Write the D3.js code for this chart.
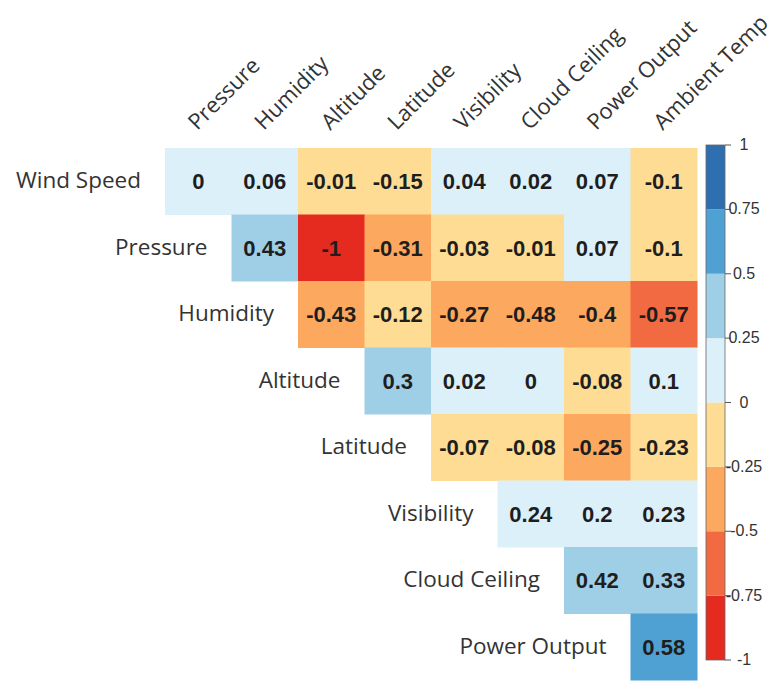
<!DOCTYPE html>
<html>
<head>
<meta charset="utf-8">
<script src="https://cdn.jsdelivr.net/npm/d3@7"></script>
<style>
  body { margin: 0; background: #fff; }
  svg { display: block; }
</style>
</head>
<body>
<div id="chart"></div>
<script>
// row / column names of the (upper triangle) correlation matrix
var rowNames = ["Wind Speed", "Pressure", "Humidity", "Altitude", "Latitude", "Visibility", "Cloud Ceiling", "Power Output"];
var colNames = ["Pressure", "Humidity", "Altitude", "Latitude", "Visibility", "Cloud Ceiling", "Power Output", "Ambient Temp"];

// values per row, starting at the row's first column
var windSpeed    = [0, 0.06, -0.01, -0.15, 0.04, 0.02, 0.07, -0.1];
var pressure     = [0.43, -1, -0.31, -0.03, -0.01, 0.07, -0.1];
var humidity     = [-0.43, -0.12, -0.27, -0.48, -0.4, -0.57];
var altitude     = [0.3, 0.02, 0, -0.08, 0.1];
var latitude     = [-0.07, -0.08, -0.252, -0.23];
var visibility   = [0.24, 0.2, 0.23];
var cloudCeiling = [0.42, 0.33];
var powerOutput  = [0.58];
var rowValues = [windSpeed, pressure, humidity, altitude, latitude, visibility, cloudCeiling, powerOutput];

// colour bar
var legendTicks = [1, 0.75, 0.5, 0.25, 0, -0.25, -0.5, -0.75, -1];
var binEdges = [-0.75, -0.5, -0.25, 0, 0.25, 0.5, 0.75];
var binColors = ["#e52b20", "#f26a41", "#fca85e", "#fedc94", "#dcf0f9", "#9fcfe7", "#4fa1d4", "#2e6fb0"];

var width = 779, height = 688;

var svg = d3.select("#chart").append("svg")
    .attr("width", width)
    .attr("height", height);

var x = d3.scaleBand().domain(colNames).range([165, 697]);
var y = d3.scaleBand().domain(rowNames).range([148, 680]);
var color = d3.scaleThreshold().domain(binEdges).range(binColors);

// flatten into cells
var cells = [];
rowValues.forEach(function(vals, i) {
  vals.forEach(function(v, j) {
    cells.push({row: rowNames[i], col: colNames[i + j], value: v});
  });
});

var fmt = function(v) { return String(+v.toFixed(2)); };

svg.selectAll(".cell")
    .data(cells)
  .enter().append("rect")
    .attr("class", "cell")
    .attr("x", function(d) { return x(d.col); })
    .attr("y", function(d) { return y(d.row); })
    .attr("width", x.bandwidth() + 0.5)
    .attr("height", y.bandwidth() + 0.5)
    .attr("fill", function(d) { return color(d.value); });

svg.selectAll(".val")
    .data(cells)
  .enter().append("text")
    .attr("class", "val")
    .attr("x", function(d) { return x(d.col) + x.bandwidth() / 2; })
    .attr("y", function(d) { return y(d.row) + y.bandwidth() / 2 + 8; })
    .attr("text-anchor", "middle")
    .style("font-family", "Liberation Sans, Arial, sans-serif")
    .style("font-weight", "bold")
    .style("font-size", "22px")
    .style("fill", "#1e1e1e")
    .text(function(d) { return fmt(d.value); });

// row labels, right aligned before each row's first cell
svg.selectAll(".rowlab")
    .data(rowNames)
  .enter().append("text")
    .attr("class", "rowlab")
    .attr("x", function(d, i) { return x(colNames[i]) - 24; })
    .attr("y", function(d) { return y(d) + y.bandwidth() / 2 + 7; })
    .attr("text-anchor", "end")
    .style("font-family", "Open Sans, sans-serif")
    .style("font-size", "22.5px")
    .style("fill", "#333")
    .text(function(d) { return d; });

// column labels, rotated
svg.selectAll(".collab")
    .data(colNames)
  .enter().append("text")
    .attr("class", "collab")
    .attr("transform", function(d) {
      return "translate(" + (x(d) + x.bandwidth() / 2 - 1) + ",131) rotate(-45)";
    })
    .style("font-family", "Open Sans, sans-serif")
    .style("font-size", "22px")
    .style("fill", "#333")
    .text(function(d) { return d; });

// colour bar legend
var ly = d3.scaleLinear().domain([-1, 1]).range([660, 145]);
var legend = svg.append("g");
var bins = [-1].concat(binEdges).map(function(lo, i) {
  return {lo: lo, hi: i < binEdges.length ? binEdges[i] : 1, c: binColors[i]};
});

legend.selectAll("rect")
    .data(bins)
  .enter().append("rect")
    .attr("x", 706)
    .attr("y", function(d) { return ly(d.hi); })
    .attr("width", 19)
    .attr("height", function(d) { return ly(d.lo) - ly(d.hi); })
    .attr("fill", function(d) { return d.c; });

legend.append("rect")
    .attr("x", 706)
    .attr("y", ly(1))
    .attr("width", 19)
    .attr("height", ly(-1) - ly(1))
    .attr("fill", "none")
    .attr("stroke", "#666")
    .attr("stroke-width", 0.8);

legend.selectAll(".tk")
    .data(legendTicks)
  .enter().append("line")
    .attr("class", "tk")
    .attr("x1", 725).attr("x2", 731)
    .attr("y1", function(d) { return ly(d); })
    .attr("y2", function(d) { return ly(d); })
    .attr("stroke", "#555")
    .attr("stroke-width", 1);

legend.selectAll(".tl")
    .data(legendTicks)
  .enter().append("text")
    .attr("class", "tl")
    .attr("x", 744)
    .attr("y", function(d) { return ly(d) + 5; })
    .attr("text-anchor", "middle")
    .style("font-family", "Liberation Sans, Arial, sans-serif")
    .style("font-size", "16px")
    .style("fill", "#333")
    .text(function(d) { return d; });
</script>
</body>
</html>
